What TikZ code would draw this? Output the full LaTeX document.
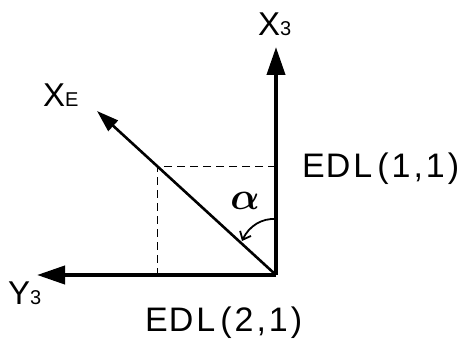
\documentclass[tikz,border=0pt]{standalone}
\usepackage{fontspec}
\usepackage{amsmath}
\setmainfont{Liberation Sans}
\usetikzlibrary{arrows.meta}
\newcommand\lsp{\kern3pt}
\newcommand\subsz{\fontsize{20}{20}\selectfont}
\begin{document}
\begin{tikzpicture}[x=1pt,y=-1pt,
  axis/.style={line width=4pt, -{Triangle[length=28pt,width=18pt]}},
  vec/.style={line width=2.6pt, -{Triangle[length=22pt,width=14pt]}},
  guide/.style={line width=1pt, dash pattern=on 8pt off 5pt},
  lbl/.style={inner sep=0pt, anchor=base west, font=\fontsize{33}{34}\selectfont},
  edl/.style={inner sep=0pt, anchor=base west, font=\fontsize{34}{36}\selectfont}]
\useasboundingbox (0,0) rectangle (472,342);
\coordinate (O) at (276,275);
\coordinate (X3tip) at (276,47);
\coordinate (Y3tip) at (37,275);
\coordinate (XEtip) at (97,111);
\coordinate (P) at (157,166.5);
\coordinate (Pv) at (276,166.5);
\coordinate (Ph) at (157,275);
\coordinate (As) at (276,219);
\coordinate (Ae) at (242,241);
\draw[guide] (Pv) -- (P) -- (Ph);
\draw[vec] (O) -- (XEtip);
\draw[axis] (O) -- (X3tip);
\draw[axis] (O) -- (Y3tip);
\draw[line width=1.8pt, -{Straight Barb[length=7pt,width=12pt,line width=1.8pt]}] (As) .. controls (262,218) and (249,226) .. (Ae);
\node[lbl] (lx3) at (258,36) {X\subsz 3};
\node[lbl] (lxe) at (43,107) {X\subsz E};
\node[lbl] (ly3) at (8,305) {Y\subsz 3};
\node[edl] (e11) at (302,178) {E\kern1pt D\lsp L\kern5pt(\lsp 1\lsp ,\lsp 1\lsp )};
\node[edl] (e21) at (145,331) {E\kern1pt D\lsp L\kern5pt(\lsp 2\lsp ,\lsp 1\lsp )};
\node[inner sep=0pt] (al) at (245,201) {\scalebox{1.55}{\Huge$\boldsymbol{\alpha}$}};
\end{tikzpicture}
\end{document}
